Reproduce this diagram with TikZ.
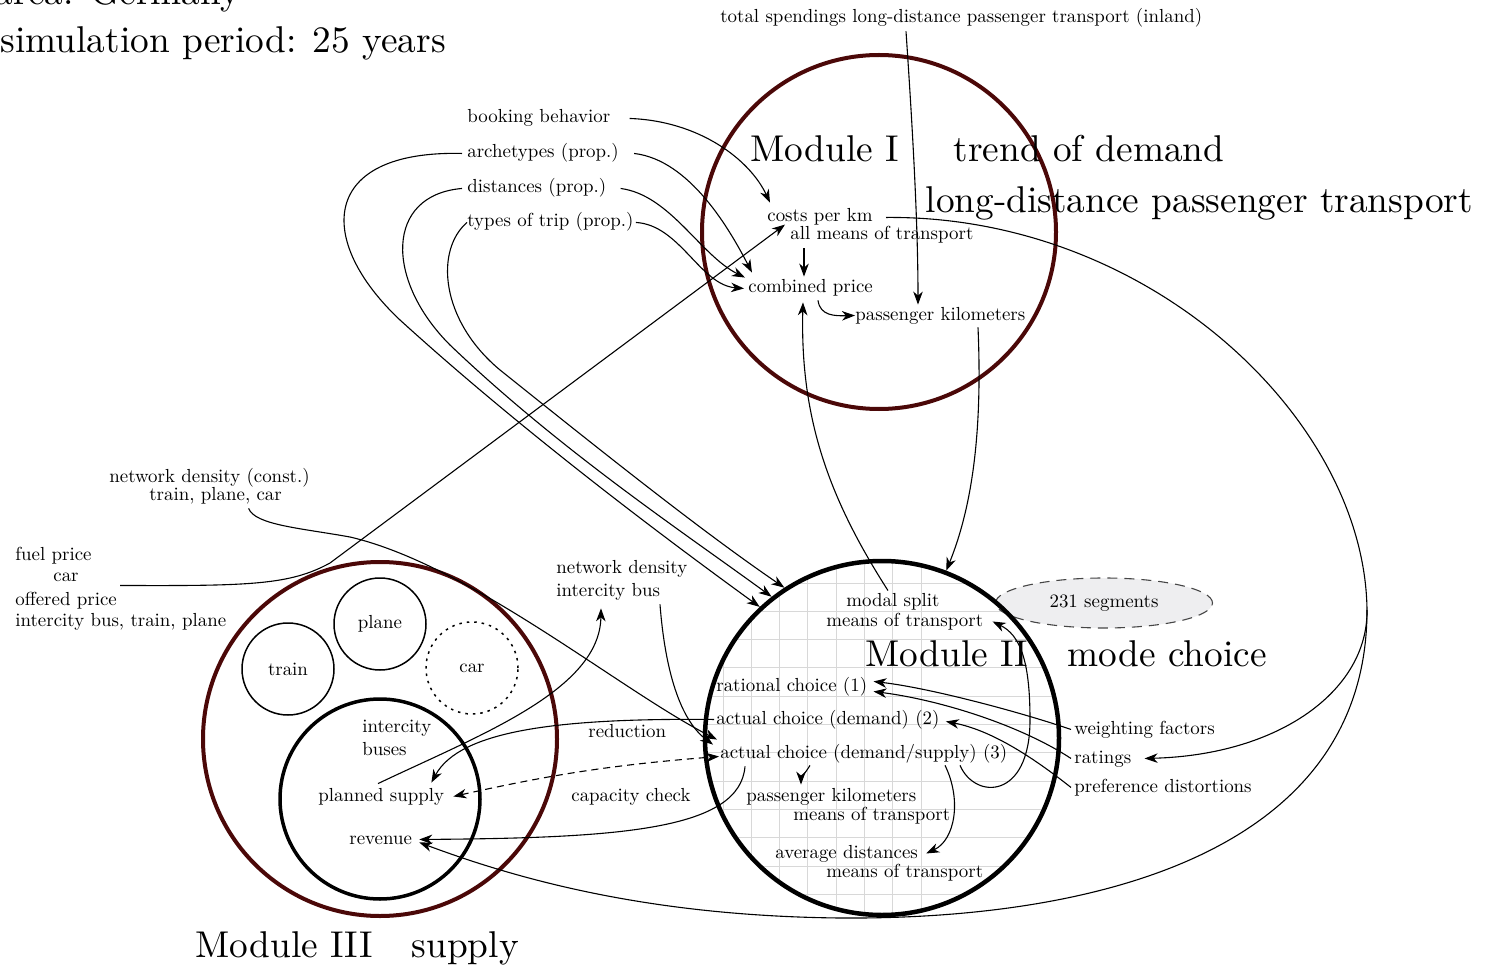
\documentclass[tikz,border=0pt]{standalone}
\usetikzlibrary{arrows.meta,shapes.geometric}
\definecolor{brn}{RGB}{75,8,8}
\definecolor{gridgray}{RGB}{216,216,216}
\definecolor{segfill}{RGB}{238,238,240}
\definecolor{seggray}{RGB}{70,70,70}
\newcommand{\smtxt}[1]{\scalebox{1.89}{\fontsize{10}{12}\selectfont #1}}
\begin{document}
\begin{tikzpicture}[x=1pt,y=-1pt,
  txt/.style={inner sep=0pt, font=\fontsize{10}{12}\selectfont, scale=1.89, text height=6.9pt, text depth=2.1pt, anchor=base west},
  big/.style={inner sep=0pt, font=\fontsize{10}{12}\selectfont, scale=3.73, anchor=base west},
  tip/.tip={Stealth[length=13pt,width=9.5pt,inset=4pt]},
  conn/.style={line width=1.1pt, -tip},
  modring/.style={circle, draw=brn, line width=4pt, minimum size=354pt, inner sep=0pt},
  subring/.style={circle, draw, line width=1.5pt, minimum size=92pt, inner sep=0pt}
]
\useasboundingbox (0,0) rectangle (1486,968);

% grid of Module II
\begin{scope}
  \clip (882pt,-738pt) circle [radius=178pt];
  \foreach \i in {-7,...,7} {\draw[gridgray, line width=1pt] (723+28.3*\i,540) -- (723+28.3*\i,940);}
  \foreach \j in {-2,...,13} {\draw[gridgray, line width=1pt] (690,583+28.3*\j) -- (1080,583+28.3*\j);}
\end{scope}

% segments ellipse
\node[ellipse, draw=seggray, dash pattern=on 10pt off 7pt, line width=1.1pt, fill=segfill, minimum width=217pt, minimum height=50pt, inner sep=0pt] (seg) at (1104,603) {\smtxt{231 segments}};

% module circles
\node[modring] (m1) at (879,232) {};
\node[modring] (m3) at (380,739) {};
\node[circle, draw, line width=4.5pt, minimum size=354pt, inner sep=0pt] (m2) at (882,738) {};

% Module III sub-circles
\node[subring] (train) at (288,669) {\smtxt{train}};
\node[subring] (plane) at (380,624) {\smtxt{plane}};
\node[subring, dash pattern=on 2.5pt off 5pt] (car) at (472,668) {\smtxt{car}};
\node[circle, draw, line width=3.5pt, minimum size=200pt, inner sep=0pt] (bus) at (380,799) {};

% big labels
\node[big] (area) at (-6,5) {area: Germany};
\node[big] (sim) at (0,53) {simulation period: 25 years};
\node[big] (mod1) at (750,162) {Module I};
\node[big] (trend) at (953,162) {trend of demand};
\node[big] (ldpt) at (925,213) {long-distance passenger transport};
\node[big] (mod2) at (865,666) {Module II};
\node[big] (mc) at (1067,666) {mode choice};
\node[big] (mod3) at (195,957) {Module III};
\node[big] (sup) at (411,957) {supply};

% small texts
\node[txt] (totsp) at (720,23) {total spendings long-distance passenger transport (inland)};
\node[txt] (book) at (467,123) {booking behavior};
\node[txt] (arch) at (467,158) {archetypes (prop.)};
\node[txt] (dist) at (467,193) {distances (prop.)};
\node[txt] (types) at (467,227) {types of trip (prop.)};
\node[txt] (costs) at (767,222) {costs per km};
\node[txt] (allm) at (790,240) {all means of transport};
\node[txt] (comb) at (748,293) {combined price};
\node[txt] (pkm1) at (855,320) {passenger kilometers};
\node[txt] (netc1) at (109,482) {network density (const.)};
\node[txt] (netc2) at (149,500) {train, plane, car};
\node[txt] (fuel1) at (15,560) {fuel price};
\node[txt] (fuel2) at (53,581) {car};
\node[txt] (off1) at (15,605) {offered price};
\node[txt] (off2) at (15,626) {intercity bus, train, plane};
\node[txt] (busn1) at (556,573) {network density};
\node[txt] (busn2) at (556,596) {intercity bus};
\node[txt] (red) at (588,737) {reduction};
\node[txt] (cap) at (571,801) {capacity check};
\node[txt] (ms1) at (846,606) {modal split};
\node[txt] (ms2) at (826,626) {means of transport};
\node[txt] (rat) at (716,691) {rational choice (1)};
\node[txt] (act2) at (716,724) {actual choice (demand) (2)};
\node[txt] (act3) at (720,758) {actual choice (demand/supply) (3)};
\node[txt] (pk2a) at (746,801) {passenger kilometers};
\node[txt] (pk2b) at (793,820) {means of transport};
\node[txt] (avg1) at (775,858) {average distances};
\node[txt] (avg2) at (826,877) {means of transport};
\node[txt] (wf) at (1074,734) {weighting factors};
\node[txt] (ratings) at (1074,763) {ratings};
\node[txt] (pref) at (1074,792) {preference distortions};
\node[txt] (icb1) at (362,732) {intercity};
\node[txt] (icb2) at (362,755) {buses};
\node[txt] (plan) at (318,801) {planned supply};
\node[txt] (rev) at (349,844) {revenue};

\coordinate (split) at (1367,610);

% connectors
\draw[conn] ([xshift=186pt,yshift=-4pt]totsp.south west) .. controls (912,120) and (918,220) .. ([xshift=63pt,yshift=2pt]pkm1.north west);
\draw[conn] ([xshift=19pt]book.east) .. controls (700,121) and (750,160) .. ([xshift=3pt,yshift=6pt]costs.north west);
\draw[conn] ([xshift=15pt]arch.east) .. controls (690,160) and (730,230) .. ([xshift=4pt,yshift=7pt]comb.north west);
\draw[conn] ([xshift=14pt]dist.east) .. controls (670,195) and (700,255) .. ([xshift=-3pt,yshift=2pt]comb.north west);
\draw[conn] ([xshift=2pt]types.east) .. controls (680,225) and (700,285) .. ([xshift=-4pt]comb.west);
\draw[conn] ([xshift=-5pt]arch.west) .. controls (320,150) and (315,240) .. (400,320) .. controls (510,420) and (640,520) .. (m2.133);
\draw[conn] ([xshift=-5pt]dist.west) .. controls (385,195) and (385,280) .. (450,345) .. controls (560,450) and (680,530) .. (m2.128);
\draw[conn] (types.west) .. controls (435,250) and (440,320) .. (500,370) .. controls (600,450) and (700,530) .. (m2.123);
\draw[conn] ([xshift=14pt,yshift=-4pt]allm.south west) -- ([xshift=56pt,yshift=3pt]comb.north west);
\draw[conn] ([xshift=70pt,yshift=-3pt]comb.south west) .. controls (820,316) and (835,316) .. (pkm1.west);
\draw[conn] ([xshift=41pt,yshift=-9pt]fuel2.east) .. controls (250,586) and (290,585) .. (330,563) -- ([xshift=-5pt,yshift=2pt]allm.north west);
\draw[conn] ([xshift=33pt,yshift=-4pt]netc2.south) .. controls (255,525) and (300,528) .. (350,537) .. controls (470,565) and (620,690) .. ([xshift=-3pt,yshift=5pt]act3.north west);
\draw[conn] ([xshift=104pt,yshift=-4pt]busn2.south west) .. controls (665,670) and (680,720) .. ([xshift=-7pt]act3.north west);
\draw[conn] ([xshift=60pt,yshift=4pt]plan.north west) .. controls (480,735) and (600,690) .. ([xshift=45pt,yshift=-8pt]busn2.south west);
\draw[conn] ([xshift=-2pt]act2.west) .. controls (560,718) and (460,730) .. ([xshift=-13pt,yshift=5pt]plan.north east);
\draw[line width=1.1pt, dash pattern=on 7pt off 5pt, tip-tip] ([xshift=9pt]plan.east) to[bend left=4] ([xshift=-1pt,yshift=-3pt]act3.west);
\draw[conn] ([xshift=25pt,yshift=-4pt]act3.south west) .. controls (740,830) and (620,838) .. ([xshift=7pt]rev.east);
\draw[line width=1.1pt] ([xshift=13pt]costs.east) .. controls (1150,215) and (1365,420) .. (split);
\draw[conn] (split) .. controls (1368,690) and (1280,755) .. ([xshift=13pt]ratings.east);
\draw[conn] (split) .. controls (1367,850) and (1100,920) .. (840,918) .. controls (650,916) and (520,880) .. ([xshift=7pt,yshift=-3pt]rev.east);
\draw[conn] ([xshift=123pt,yshift=-3pt]pkm1.south west) .. controls (982,420) and (975,500) .. (m2.69);
\draw[conn] ([xshift=42pt,yshift=2pt]ms1.north west) .. controls (830,500) and (800,420) .. ([xshift=55pt,yshift=-5pt]comb.south west);
\draw[conn] ([xshift=90pt,yshift=-3pt]act3.south west) .. controls (806,772) and (801,778) .. ([xshift=55pt,yshift=3pt]pk2a.north west);
\draw[conn] ([xshift=225pt,yshift=-3pt]act3.south west) .. controls (962,800) and (955,840) .. ([xshift=8pt]avg1.east);
\draw[conn] ([xshift=240pt,yshift=-3pt]act3.south west) .. controls (975,800) and (1030,800) .. (1030,720) .. controls (1030,660) and (1020,635) .. ([xshift=9pt]ms2.east);
\draw[conn] ([xshift=-3pt]wf.west) .. controls (1020,712) and (930,688) .. ([xshift=6pt,yshift=5pt]rat.east);
\draw[conn] ([xshift=-3pt]ratings.west) .. controls (1020,725) and (940,700) .. ([xshift=6pt,yshift=-5pt]rat.east);
\draw[conn] ([xshift=-3pt]pref.west) .. controls (1030,755) and (990,730) .. ([xshift=6pt,yshift=-2pt]act2.east);
\end{tikzpicture}
\end{document}
